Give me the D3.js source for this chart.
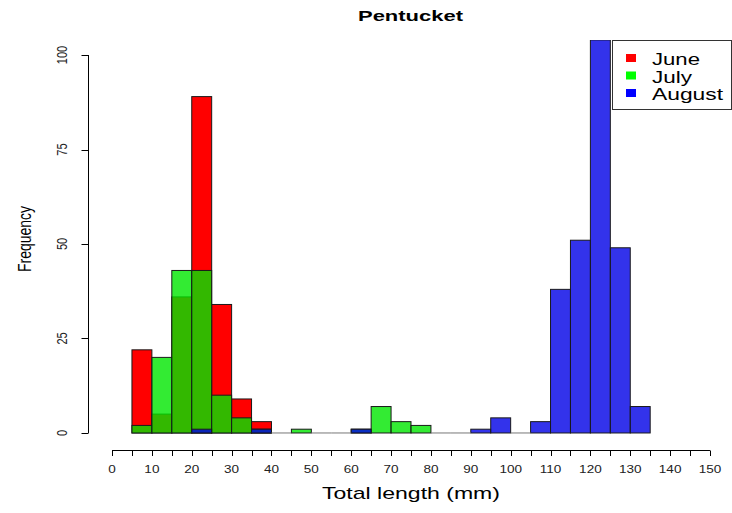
<!DOCTYPE html>
<html><head><meta charset="utf-8">
<script src="https://cdn.jsdelivr.net/npm/d3@7"></script>
<style>body{margin:0;background:#fff}svg{display:block}text{font-family:"Liberation Sans",Arial,sans-serif}</style>
</head><body><svg id="c" width="732" height="513"></svg>
<script>
// ---- data ----
const binStarts = [5,10,15,20,25,30,35,40,45,50,55,60,65,70,75,80,85,90,95,100,105,110,115,120,125,130];
const binWidth = 5;
const june   = [22,5,36,89,34,9,3,0,0,0,0,0,0,0,0,0,0,0,0,0,0,0,0,0,0,0];
const july   = [2,20,43,43,10,4,1,0,1,0,0,1,7,3,2,0,0,0,0,0,0,0,0,0,0,0];
const august = [0,0,0,1,0,0,1,0,0,0,0,1,0,0,0,0,0,1,4,0,3,38,51,104,49,7];
const seriesNames = ["June","July","August"];
const seriesFill = ["#ff0000","rgba(0,230,0,0.8)","rgba(0,0,230,0.8)"];
const legendColors = ["#ff0000","#00ff00","#0000ff"];
const legendWidths = [48,40,71];
const xTicks = d3.range(0,151,5);
const xTickLabels = [0,10,20,30,40,50,60,70,80,90,100,110,120,130,140,150];
const yTicks = [0,25,50,75,100];
const titleText = "Pentucket";
const xTitle = "Total length (mm)";
const yTitle = "Frequency";

// ---- layout ----
const svg = d3.select("#c");
const x = d3.scaleLinear().domain([-6,156]).range([88.1,733.9]);
const y = d3.scaleLinear().domain([-4,104]).range([448.1,39.9]);

svg.append("defs").append("clipPath").attr("id","pc")
  .append("rect").attr("x",x(-6)).attr("y",y(104)).attr("width",x(156)-x(-6)).attr("height",y(-4)-y(104));

const series = [june, july, august];
const gBars = svg.append("g").attr("clip-path","url(#pc)");
series.forEach((vals,i)=>{
  const data = binStarts.map((b,k)=>({b, v: vals[k]})).filter(d=>d.v>0);
  gBars.append("g").selectAll("rect").data(data).join("rect")
    .attr("x",d=>x(d.b)).attr("width",d=>x(d.b+binWidth)-x(d.b))
    .attr("y",d=>y(d.v)).attr("height",d=>y(0)-y(d.v))
    .attr("fill",seriesFill[i]).attr("stroke","#1a1a1a").attr("stroke-width",1);
});
// zero-height bins drawn as baseline segments
const zeroBins = binStarts.filter((b,k)=>june[k]===0 && july[k]===0 && august[k]===0);
svg.append("g").selectAll("line").data(zeroBins).join("line")
  .attr("x1",d=>x(d)).attr("x2",d=>x(d+binWidth)).attr("y1",y(0)).attr("y2",y(0))
  .attr("stroke","#777").attr("stroke-width",1);

// x axis
const xa = svg.append("g");
const axY = 450.5;
xa.append("line").attr("x1",x(0)).attr("x2",x(150)).attr("y1",axY).attr("y2",axY).attr("stroke","#000");
xa.selectAll("line.t").data(xTicks).join("line").attr("class","t")
  .attr("x1",d=>Math.round(x(d))+0.5).attr("x2",d=>Math.round(x(d))+0.5).attr("y1",axY).attr("y2",axY+5.5).attr("stroke","#000");
xa.selectAll("text").data(xTickLabels).join("text")
  .attr("transform",d=>`translate(${x(d)},473) scale(1.23,1)`)
  .attr("text-anchor","middle").attr("font-size",11).attr("fill","#222").text(d=>d);

// y axis
const ya = svg.append("g");
const axX = 88.5;
ya.append("line").attr("x1",axX).attr("x2",axX).attr("y1",y(0)).attr("y2",y(100)).attr("stroke","#000");
ya.selectAll("line.t").data(yTicks).join("line").attr("class","t")
  .attr("x1",axX-7).attr("x2",axX).attr("y1",d=>Math.round(y(d))+0.5).attr("y2",d=>Math.round(y(d))+0.5).attr("stroke","#000");
ya.selectAll("text").data(yTicks).join("text")
  .attr("transform",d=>`translate(67,${y(d)}) scale(1.3,1) rotate(-90)`)
  .attr("text-anchor","middle").attr("font-size",11).attr("fill","#222").text(d=>d);

// titles
svg.append("text").attr("x",410.5-52.5).attr("y",20.5).attr("font-size",15).attr("font-weight","bold")
  .attr("textLength",105).attr("lengthAdjust","spacingAndGlyphs").text(titleText);
svg.append("text").attr("x",411-89).attr("y",499).attr("font-size",17)
  .attr("textLength",178).attr("lengthAdjust","spacingAndGlyphs").text(xTitle);
svg.append("text").attr("transform","translate(31,239) scale(1.3,1) rotate(-90)")
  .attr("text-anchor","middle").attr("font-size",14).text(yTitle);

// legend
const lg = svg.append("g");
lg.append("rect").attr("x",612.5).attr("y",40.5).attr("width",119).attr("height",69)
  .attr("fill","#fff").attr("stroke","#333");
const li = lg.selectAll("g").data(seriesNames).join("g")
  .attr("transform",(d,i)=>`translate(0,${i*17.5})`);
li.append("rect").attr("x",626).attr("y",54).attr("width",10).attr("height",8)
  .attr("fill",(d,i)=>legendColors[i]);
li.append("text").attr("x",652).attr("y",65).attr("font-size",17)
  .attr("textLength",(d,i)=>legendWidths[i]).attr("lengthAdjust","spacingAndGlyphs").text(d=>d);
</script></body></html>
